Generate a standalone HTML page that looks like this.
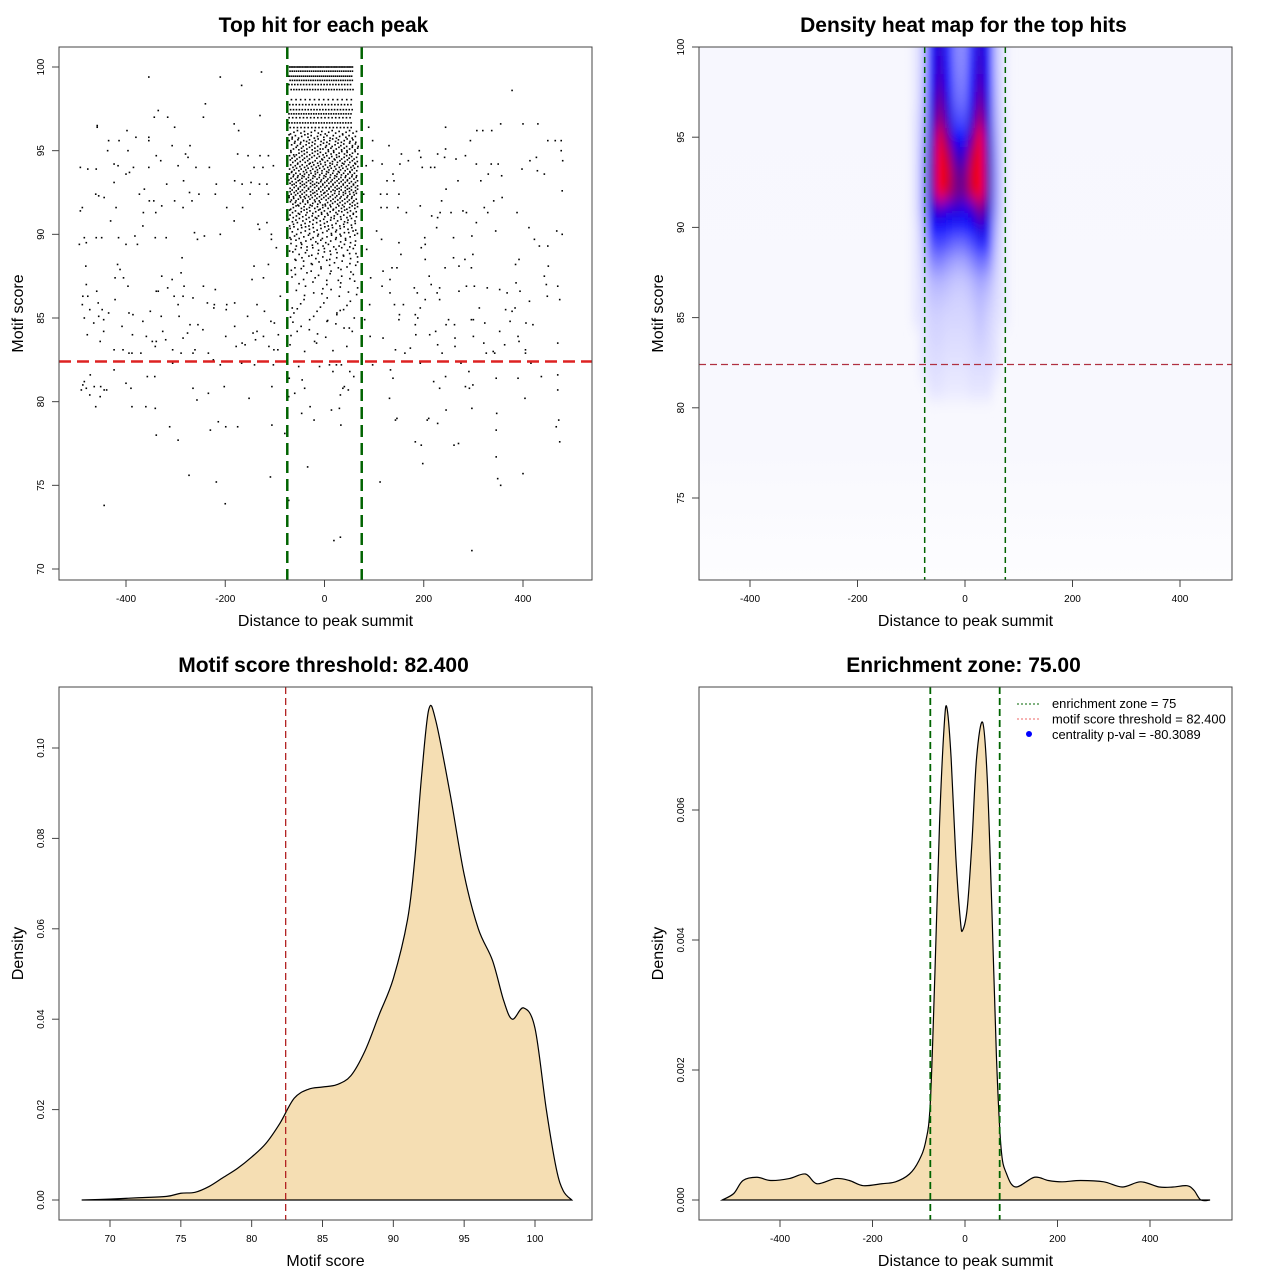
<!DOCTYPE html>
<html><head><meta charset="utf-8"><style>
html,body{margin:0;padding:0;background:#fff;}
svg{display:block;font-family:"Liberation Sans",Arial,sans-serif;}
</style></head><body>
<svg id="fig" xmlns="http://www.w3.org/2000/svg" width="1280" height="1280" viewBox="0 0 1280 1280">
<defs>
<filter id="heatBlur" x="-20%" y="-20%" width="140%" height="140%"><feGaussianBlur stdDeviation="4 8"/></filter>
<clipPath id="clip2"><rect x="699" y="47" width="533" height="533"/></clipPath>
<linearGradient id="heatBg" x1="0" y1="0" x2="0" y2="1">
<stop offset="0" stop-color="#f7f7fe"/><stop offset="0.75" stop-color="#f8f8fe"/><stop offset="1" stop-color="#fdfdff"/></linearGradient>
</defs>
<rect width="1280" height="1280" fill="#fff"/>
<g id="p1"></g>
<g id="p2"></g>
<g id="p3"></g>
<g id="p4"></g>
</svg>
<script>
// ---------- DATA ----------
const outsidePoints = [[-354,99.4],[-210,99.4],[-127,99.7],[-167,98.9],[378,98.6],[-335,97.4],[-240,97.8],[-343,97.0],[-316,97.0],[-244,97.0],[-130,97.1],[-458,96.5],[-458,96.4],[-302,96.4],[-182,96.6],[89,96.4],[244,96.4],[355,96.6],[400,96.6],[430,96.6],[-398,96.2],[-173,96.2],[307,96.2],[319,96.2],[337,96.2],[-380,95.8],[-354,95.8],[-354,95.6],[-435,95.6],[-414,95.6],[97,95.6],[294,95.6],[450,95.6],[465,95.6],[477,95.6],[-307,95.3],[-271,95.3],[130,95.3],[-437,95.0],[-396,95.0],[477,95.0],[244,95.1],[191,95.0],[155,94.8],[-280,94.8],[-275,94.6],[-339,94.7],[-175,94.8],[-154,94.7],[-130,94.7],[-113,94.7],[228,94.8],[284,94.7],[265,94.5],[427,94.6],[480,94.4],[-330,94.4],[97,94.4],[169,94.4],[194,94.6],[242,94.6],[-492,94.0],[-477,93.9],[-460,93.9],[-424,94.2],[-416,94.1],[-385,94.0],[-354,94.0],[-295,94.1],[-259,94.0],[-232,94.0],[-142,94.0],[-124,94.0],[-103,94.1],[84,94.1],[116,94.2],[152,94.2],[197,94.0],[214,94.0],[222,94.0],[306,94.2],[336,94.2],[350,94.2],[398,93.9],[414,94.4],[-400,93.6],[-393,93.7],[138,93.6],[330,93.6],[357,93.5],[429,93.8],[443,93.6],[-424,93.1],[-318,93.0],[-284,93.2],[-218,93.0],[-181,93.2],[-166,93.0],[-148,93.1],[-131,93.0],[-116,93.0],[126,93.2],[140,93.2],[269,93.2],[315,93.2],[245,92.7],[479,92.6],[-461,92.4],[-455,92.3],[-444,92.2],[-373,92.4],[-363,92.7],[-353,92.0],[-344,92.0],[-302,92.0],[-272,92.5],[-267,92.0],[-253,92.4],[-220,92.4],[-150,92.4],[-113,92.4],[79,92.4],[113,92.4],[126,92.4],[150,92.4],[236,92.0],[341,92.0],[358,92.2],[-488,91.6],[-492,91.4],[-420,91.6],[-365,91.3],[-340,91.3],[-328,91.7],[-285,91.6],[-197,91.6],[-165,91.6],[114,91.6],[126,91.6],[148,91.6],[165,91.3],[193,91.7],[216,91.1],[233,91.3],[255,91.3],[279,91.4],[286,91.3],[322,91.6],[329,91.3],[388,91.3],[-431,90.8],[-182,90.8],[-116,90.7],[228,91.0],[306,90.7],[-366,90.5],[-134,90.6],[-131,90.3],[226,90.4],[345,90.2],[412,90.4],[468,90.2],[479,90.0],[-262,90.1],[-256,89.7],[-242,89.9],[-210,90.0],[-107,90.0],[105,90.2],[115,89.7],[150,89.5],[202,89.8],[260,89.8],[297,89.9],[423,89.7],[-484,89.8],[-480,89.5],[-494,89.4],[-460,89.8],[-449,89.8],[-415,89.8],[-382,89.9],[-377,89.4],[-400,89.4],[-341,89.8],[-319,89.8],[-107,89.7],[-97,89.2],[85,89.1],[195,89.2],[203,89.4],[433,89.3],[450,89.3],[-287,88.6],[154,88.8],[203,88.5],[260,88.6],[283,88.5],[299,88.8],[-481,88.1],[-417,88.2],[-412,87.9],[-142,88.1],[-113,88.2],[243,88.0],[271,88.1],[296,88.0],[385,88.2],[392,88.5],[451,88.1],[118,87.8],[136,88.0],[146,88.0],[-328,87.5],[-289,87.7],[-422,87.4],[-405,87.4],[-307,87.3],[-146,87.3],[-123,87.4],[211,87.5],[443,87.5],[93,87.4],[132,87.3],[-480,87.0],[-396,86.9],[-283,86.9],[-244,86.9],[-220,86.7],[-316,86.8],[181,86.8],[215,87.0],[232,86.8],[286,86.9],[302,86.9],[328,86.8],[353,86.7],[386,87.1],[447,87.0],[470,86.9],[116,86.9],[132,86.5],[-459,86.6],[-339,86.6],[-335,86.6],[-303,86.3],[-285,86.3],[-265,86.2],[-422,86.1],[187,86.5],[227,86.5],[271,86.6],[368,86.5],[394,86.6],[449,86.3],[474,86.1],[-89,86.3],[-487,86.3],[-477,86.3],[203,86.1],[232,86.1],[413,86.0],[-488,85.8],[-456,85.9],[-295,85.8],[-236,85.9],[-222,85.8],[-197,85.8],[-181,85.9],[-136,85.8],[91,85.8],[141,85.8],[159,85.8],[193,85.6],[312,85.6],[365,85.5],[378,85.4],[384,85.6],[-473,85.5],[-448,85.5],[-435,85.3],[-394,85.3],[-386,85.2],[-351,85.4],[-329,85.1],[-293,85.1],[-223,85.6],[-198,85.5],[-155,85.1],[-121,85.4],[151,85.2],[183,85.2],[188,85.0],[250,84.9],[300,84.9],[323,84.7],[374,84.8],[406,84.7],[420,84.6],[-484,85.0],[-455,85.1],[-465,84.7],[-445,84.9],[-366,84.8],[-408,84.5],[-271,84.6],[-255,84.6],[-245,84.3],[-181,84.5],[-108,84.8],[-101,84.7],[245,84.6],[262,84.6],[296,84.9],[183,84.6],[150,84.9],[81,84.9],[-445,84.2],[-387,84.0],[-359,83.9],[-326,84.2],[-276,84.1],[-199,83.9],[-144,84.1],[-136,84.2],[-123,83.9],[-93,84.0],[-478,84.0],[184,84.0],[212,84.0],[224,84.2],[263,83.8],[300,83.9],[353,84.2],[390,83.9],[92,83.9],[118,83.8],[470,83.5],[-452,83.6],[-347,83.6],[-339,83.6],[-320,83.7],[-285,83.8],[-166,83.5],[-160,83.4],[-139,83.7],[228,83.4],[263,83.3],[321,83.5],[363,83.4],[392,83.6],[405,83.1],[-424,83.1],[-406,83.1],[-394,82.9],[-388,82.9],[-370,82.9],[-341,83.3],[-306,83.1],[-289,82.9],[-265,82.9],[-261,83.1],[-234,82.9],[-178,83.3],[-112,83.3],[-102,83.1],[-94,83.1],[143,83.1],[162,82.9],[173,83.2],[237,82.9],[326,82.9],[340,83.0],[343,82.9],[405,82.9],[-306,82.3],[-224,82.5],[-210,82.2],[-167,82.3],[-141,82.2],[-103,82.2],[-424,81.9],[-472,81.6],[-357,81.5],[-342,81.5],[-484,81.2],[-487,81.0],[-490,80.7],[-480,80.8],[-464,80.9],[-451,80.9],[-444,80.7],[-439,80.7],[-473,80.4],[-452,80.3],[-400,81.1],[-390,80.8],[-265,80.8],[-257,80.1],[-234,80.5],[-202,80.9],[-152,80.2],[-106,80.9],[-461,79.7],[-388,79.7],[-360,79.7],[-341,79.6],[-312,78.5],[-339,78.0],[-295,77.7],[-230,78.3],[-214,78.8],[-199,78.5],[-175,78.5],[-106,78.6],[-273,75.6],[-218,75.2],[-109,75.5],[-444,73.8],[-200,73.9],[97,82.2],[133,81.9],[138,81.4],[193,82.3],[275,82.3],[291,81.8],[244,81.5],[346,81.4],[390,81.4],[416,82.3],[437,81.5],[470,81.6],[220,81.2],[232,80.8],[284,80.9],[292,80.8],[299,81.0],[470,80.7],[131,80.2],[404,80.2],[245,79.5],[297,79.6],[347,79.3],[143,78.9],[146,79.0],[207,78.9],[210,79.0],[228,78.7],[472,78.9],[467,78.5],[346,78.3],[183,77.6],[195,77.4],[261,77.4],[270,77.5],[474,77.6],[198,76.3],[346,76.7],[400,75.7],[349,75.4],[355,75.0],[112,75.2],[297,71.1],[-71,81.4],[-52,82.1],[-45,81.3],[-40,80.8],[-60,80.5],[-72,80.3],[-29,79.7],[-46,79.3],[-21,78.9],[14,79.5],[30,79.6],[33,78.6],[24,82.2],[34,82.2],[17,81.8],[40,80.9],[37,80.8],[48,80.7],[32,80.4],[-34,76.1],[-72,74.1],[19,71.7],[32,71.9],[-10,82.1],[10,82.2],[59,81.5],[51,81.8],[-80,78.1],[-40,83.0],[-20,83.6],[-55,84.2],[5,84.8],[45,83.3],[60,85.0],[-65,85.6],[25,85.3],[-30,84.9],[50,84.4]];
const topRowY = [100.0,99.75,99.45,99.2,98.95,98.65,98.05,97.75,97.45,97.2,96.97,96.66,96.38];
const topRowN = [40,30,32,28,22,24,14,20,22,26,18,24,18];
const bandY = [96.1,95.85,95.6,95.35,95.1,94.85,94.6,94.35,94.1,93.85,93.6,93.35,93.1,92.85,92.6,92.35,92.1,91.85,91.6,91.35,91.1,90.85,90.6,90.35,90.1,89.85,89.6,89.35,89.1,88.85,88.6,88.35,88.1,87.85,87.6,87.35,87.1,86.85,86.6,86.35,86.1,85.85,85.6,85.35,85.1,84.85,84.6,84.35,84.1,83.85,83.6,83.35,83.1];
const bandN = [20,22,24,24,26,26,28,28,30,30,32,32,34,34,34,32,30,28,26,24,22,20,18,18,16,15,14,13,12,11,10,9,8,7,6,6,5,4,4,4,3,3,3,3,3,2,2,2,2,2,1,1,1];
const xTicks12 = [-400,-200,0,200,400];
const yTicks1 = [70,75,80,85,90,95,100];
const yTicks2 = [75,80,85,90,95,100];
// heat map grid (density: 0 white, 0.5 blue, >=1 red)
const heatCols = [-92,-77,-62,-47,-32,-17,-2,13,28,43,58,73];
const heatRows = [101,100,99,98,97,96,95,94,93,92,91,90,89,88,87,86,85,84,83,82,81];
const heatVals = [
[0.04,0.12,0.45,0.6,0.42,0.24,0.22,0.4,0.6,0.45,0.12,0.04],
[0.04,0.12,0.45,0.6,0.42,0.24,0.22,0.4,0.6,0.45,0.12,0.04],
[0.04,0.12,0.47,0.62,0.45,0.25,0.23,0.43,0.62,0.47,0.12,0.04],
[0.04,0.13,0.5,0.66,0.5,0.27,0.25,0.48,0.66,0.5,0.13,0.04],
[0.04,0.14,0.53,0.72,0.55,0.3,0.28,0.52,0.72,0.53,0.14,0.04],
[0.05,0.15,0.56,0.8,0.6,0.36,0.34,0.58,0.82,0.56,0.15,0.05],
[0.05,0.17,0.6,0.95,0.72,0.5,0.48,0.7,0.98,0.6,0.17,0.05],
[0.05,0.19,0.64,1.15,0.85,0.62,0.6,0.85,1.2,0.64,0.19,0.05],
[0.05,0.2,0.66,1.3,0.92,0.72,0.7,0.92,1.3,0.66,0.2,0.05],
[0.05,0.2,0.64,1.2,0.88,0.74,0.72,0.9,1.25,0.66,0.2,0.05],
[0.05,0.19,0.56,0.62,0.56,0.58,0.54,0.6,0.75,0.6,0.19,0.05],
[0.04,0.15,0.46,0.5,0.46,0.44,0.44,0.5,0.58,0.52,0.15,0.04],
[0.04,0.12,0.32,0.36,0.32,0.28,0.28,0.34,0.42,0.38,0.12,0.04],
[0.04,0.1,0.22,0.24,0.2,0.17,0.17,0.22,0.28,0.24,0.1,0.04],
[0.04,0.08,0.14,0.15,0.13,0.11,0.11,0.14,0.18,0.15,0.08,0.04],
[0.04,0.07,0.11,0.11,0.1,0.09,0.09,0.11,0.14,0.11,0.07,0.04],
[0.04,0.06,0.09,0.09,0.08,0.08,0.08,0.09,0.12,0.09,0.06,0.04],
[0.03,0.05,0.08,0.08,0.07,0.07,0.07,0.08,0.1,0.08,0.05,0.03],
[0.03,0.05,0.07,0.07,0.06,0.06,0.06,0.07,0.08,0.07,0.05,0.03],
[0.03,0.04,0.06,0.06,0.05,0.05,0.05,0.06,0.06,0.06,0.04,0.03],
[0.03,0.03,0.05,0.05,0.04,0.04,0.04,0.05,0.05,0.05,0.03,0.03]];
// score density
const scoreX = [68,70,72,74,75,76,77,78,79,80,81,82,83,84,85,86,87,88,89,90,91,91.5,92,92.5,93,94,95,96,97,97.8,98.4,99.2,100,100.8,101.5,102,102.6];
const scoreD = [0,0.0002,0.0005,0.0008,0.0015,0.0017,0.003,0.005,0.007,0.0095,0.0125,0.017,0.0225,0.0245,0.025,0.0255,0.0275,0.033,0.041,0.049,0.062,0.075,0.094,0.1085,0.106,0.09,0.072,0.06,0.053,0.044,0.040,0.0425,0.038,0.02,0.007,0.002,0];
const scoreXTicks = [70,75,80,85,90,95,100];
const scoreYTicks = [0,0.02,0.04,0.06,0.08,0.10];
// distance density
const distX = [-525,-500,-480,-450,-420,-380,-345,-320,-280,-250,-220,-180,-150,-120,-100,-85,-75,-65,-55,-45,-39,-30,-20,-10,-5,5,15,25,38,48,58,68,78,90,110,150,180,210,250,300,340,380,420,450,480,495,510,530];
const distD = [0,0.0001,0.0003,0.00035,0.0003,0.00033,0.0004,0.00025,0.00033,0.0003,0.00022,0.00025,0.00028,0.0004,0.0006,0.0009,0.0015,0.0035,0.0058,0.0073,0.00757,0.0068,0.0053,0.0043,0.00415,0.0045,0.0055,0.0068,0.00735,0.0065,0.0045,0.0022,0.0008,0.0004,0.0002,0.00035,0.0003,0.00028,0.0003,0.00028,0.0002,0.00028,0.0002,0.0002,0.00022,0.00015,0,0];
const distXTicks = [-400,-200,0,200,400];
const distYTicks = [0,0.002,0.004,0.006];
const scoreThreshold = 82.4;
const enrichZone = 75;

// ---------- HELPERS ----------
const NS = "http://www.w3.org/2000/svg";
function mk(parent, tag, attrs, text) {
  const e = document.createElementNS(NS, tag);
  for (const k in attrs) e.setAttribute(k, attrs[k]);
  if (text !== undefined) e.textContent = text;
  parent.appendChild(e);
  return e;
}
function lin(d0, d1, r0, r1) { return v => r0 + (v - d0) / (d1 - d0) * (r1 - r0); }

function frame(g, box, title, xlab, ylab, xs, ys, xt, yt, xfmt, yfmt) {
  const b = mk(g, 'rect', {x: box.x, y: box.y, width: box.w, height: box.h, fill: 'none', stroke: '#444', 'stroke-width': 1});
  
  
  const t = mk(g, 'text', {x: box.x + box.w / 2 - 2, y: box.y - 15, 'text-anchor': 'middle', 'font-size': 21, 'font-weight': 'bold', fill: '#000'}, title);
  
  
  const xl = mk(g, 'text', {x: box.x + box.w / 2, y: box.y + box.h + 46, 'text-anchor': 'middle', 'font-size': 16, fill: '#000'}, xlab);
  
  
  const cy = box.y + box.h / 2;
  const yl = mk(g, 'text', {x: box.x - 36, y: cy, 'text-anchor': 'middle', 'font-size': 16, fill: '#000', transform: `rotate(-90 ${box.x - 36} ${cy})`}, ylab);
  
  
  const by = box.y + box.h;
  mk(g, 'line', {x1: xs(xt[0]), x2: xs(xt[xt.length - 1]), y1: by, y2: by, stroke: '#444'});
  xt.forEach(v => {
    const x = xs(v);
    mk(g, 'line', {x1: x, x2: x, y1: by, y2: by + 7, stroke: '#444'});
    const l = mk(g, 'text', {x: x, y: by + 22, 'text-anchor': 'middle', 'font-size': 10, fill: '#000'}, xfmt(v));
    
    
  });
  mk(g, 'line', {x1: box.x, x2: box.x, y1: ys(yt[0]), y2: ys(yt[yt.length - 1]), stroke: '#444'});
  yt.forEach(v => {
    const y = ys(v);
    mk(g, 'line', {x1: box.x, x2: box.x - 7, y1: y, y2: y, stroke: '#444'});
    const lx = box.x - 15;
    const l = mk(g, 'text', {x: lx, y: y, 'text-anchor': 'middle', 'font-size': 10, fill: '#000', transform: `rotate(-90 ${lx} ${y})`}, yfmt(v));
    
    
  });
}
function smoothPath(pts) {
  let d = `M${pts[0][0]},${pts[0][1]}`;
  for (let i = 0; i < pts.length - 1; i++) {
    const p0 = pts[Math.max(0, i - 1)], p1 = pts[i], p2 = pts[i + 1], p3 = pts[Math.min(pts.length - 1, i + 2)];
    const c1x = p1[0] + (p2[0] - p0[0]) / 6, c1y = p1[1] + (p2[1] - p0[1]) / 6;
    const c2x = p2[0] - (p3[0] - p1[0]) / 6, c2y = p2[1] - (p3[1] - p1[1]) / 6;
    d += ` C${c1x},${c1y} ${c2x},${c2y} ${p2[0]},${p2[1]}`;
  }
  return d;
}

// ---------- PANEL 1: scatter ----------
(function () {
  const g = document.getElementById('p1');
  const box = {x: 59, y: 47, w: 533, h: 533};
  const xs = lin(-400, 400, 126, 523), ys = lin(100, 70, 67, 569);
  const pg = mk(g, 'g', {fill: '#000'});
  
  
  outsidePoints.forEach(p => {
    const c = mk(pg, 'rect', {x: xs(p[0]) - 0.8, y: ys(p[1]) - 0.8, width: 1.6, height: 1.6});
    
    
  });
  topRowY.forEach((yv, i) => {
    const n = topRowN[i];
    for (let j = 0; j < n; j++) {
      const f = ((j + 0.5) / n + i * 0.37) % 1;
      const xv = -72 + 130 * f;
      const c = mk(pg, 'rect', {x: xs(xv) - 0.8, y: ys(yv) - 0.8, width: 1.6, height: 1.6});
      
      
    }
  });
  bandY.forEach((yv, i) => {
    const n = bandN[i];
    for (let j = 0; j < n; j++) {
      const f = ((j + 0.5) / n + i * 0.618) % 1;
      const xv = -72 + 140 * f;
      const dy = (((j * 7 + i * 3) % 5) - 2) * 0.05;
      const c = mk(pg, 'rect', {x: xs(xv) - 0.8, y: ys(yv + dy) - 0.8, width: 1.6, height: 1.6});
      
      
    }
  });
  const h = mk(g, 'line', {x1: box.x, x2: box.x + box.w, y1: ys(scoreThreshold), y2: ys(scoreThreshold), stroke: '#dd2222', 'stroke-width': 2.5, 'stroke-dasharray': '12 6'});
  
  
  [-enrichZone, enrichZone].forEach(v => {
    const l = mk(g, 'line', {x1: xs(v), x2: xs(v), y1: box.y, y2: box.y + box.h, stroke: '#006400', 'stroke-width': 2.5, 'stroke-dasharray': '12 6'});
    
    
  });
  frame(g, box, 'Top hit for each peak', 'Distance to peak summit', 'Motif score', xs, ys, xTicks12, yTicks1, v => String(v), v => String(v));
})();

// ---------- PANEL 2: heat map ----------
(function () {
  const g = document.getElementById('p2');
  const box = {x: 699, y: 47, w: 533, h: 533};
  const xs = lin(-400, 400, 750, 1180), ys = lin(100, 75, 47, 498);
  const cg = mk(g, 'g', {'clip-path': 'url(#clip2)'});
  const bg = mk(cg, 'rect', {x: box.x, y: box.y, width: box.w, height: box.h, fill: 'url(#heatBg)'});
  
  
  const hg = mk(cg, 'g', {filter: 'url(#heatBlur)'});
  
  
  const cw = Math.abs(xs(15) - xs(0)), ch = Math.abs(ys(1) - ys(0));
  function col(v) {
    v = Math.min(1, v);
    let r, gg, b;
    if (v < 0.5) { const t = v / 0.5; r = 255 * (1 - t); gg = 255 * (1 - t); b = 255; }
    else { const t = (v - 0.5) / 0.5; r = 255 * t; gg = 0; b = 255 * (1 - t); }
    return `rgb(${r | 0},${gg | 0},${b | 0})`;
  }
  heatRows.forEach((yv, i) => heatCols.forEach((xv, j) => {
    const v = heatVals[i][j];
    if (v < 0.035) return;
    const c = mk(hg, 'rect', {x: xs(xv) - cw / 2, y: ys(yv) - ch / 2, width: cw + 0.5, height: ch + 0.5, fill: col(v)});
    
    
  }));
  const h = mk(g, 'line', {x1: box.x, x2: box.x + box.w, y1: ys(scoreThreshold), y2: ys(scoreThreshold), stroke: '#b03040', 'stroke-width': 1.2, 'stroke-dasharray': '7 4'});
  
  
  [-enrichZone, enrichZone].forEach(v => {
    const l = mk(g, 'line', {x1: xs(v), x2: xs(v), y1: box.y, y2: box.y + box.h, stroke: '#006400', 'stroke-width': 1.5, 'stroke-dasharray': '6 4'});
    
    
  });
  frame(g, box, 'Density heat map for the top hits', 'Distance to peak summit', 'Motif score', xs, ys, xTicks12, yTicks2, v => String(v), v => String(v));
})();

// ---------- PANEL 3: score density ----------
(function () {
  const g = document.getElementById('p3');
  const box = {x: 59, y: 687, w: 533, h: 533};
  const xs = lin(70, 100, 110, 535), ys = lin(0, 0.10, 1200, 748);
  const pts = scoreX.map((x, i) => [xs(x), ys(scoreD[i])]);
  const d = smoothPath(pts);
  const a = mk(g, 'path', {d: d + ' Z', fill: '#F5DEB3', stroke: '#000', 'stroke-width': 1.2});
  
  
  const l = mk(g, 'line', {x1: xs(scoreThreshold), x2: xs(scoreThreshold), y1: box.y, y2: box.y + box.h, stroke: '#b22222', 'stroke-width': 1.3, 'stroke-dasharray': '7 4'});
  
  
  frame(g, box, 'Motif score threshold: 82.400', 'Motif score', 'Density', xs, ys, scoreXTicks, scoreYTicks, v => String(v), v => v.toFixed(2));
})();

// ---------- PANEL 4: distance density ----------
(function () {
  const g = document.getElementById('p4');
  const box = {x: 699, y: 687, w: 533, h: 533};
  const xs = lin(-400, 400, 780, 1150), ys = lin(0, 0.006, 1200, 810);
  const pts = distX.map((x, i) => [xs(x), ys(distD[i])]);
  const d = smoothPath(pts);
  const a = mk(g, 'path', {d: d + ' Z', fill: '#F5DEB3', stroke: '#000', 'stroke-width': 1.2});
  
  
  [-enrichZone, enrichZone].forEach(v => {
    const l = mk(g, 'line', {x1: xs(v), x2: xs(v), y1: box.y, y2: box.y + box.h, stroke: '#006400', 'stroke-width': 1.8, 'stroke-dasharray': '7 4'});
    
    
  });
  frame(g, box, 'Enrichment zone: 75.00', 'Distance to peak summit', 'Density', xs, ys, distXTicks, distYTicks, v => String(v), v => v.toFixed(3));
  const lg = mk(g, 'g', {});
  
  
  const e1 = mk(lg, 'line', {x1: 1017, x2: 1041, y1: 704, y2: 704, stroke: '#006400', 'stroke-dasharray': '2 2'});
  
  
  const e2 = mk(lg, 'line', {x1: 1017, x2: 1041, y1: 719, y2: 719, stroke: '#ee6666', 'stroke-dasharray': '2 2'});
  
  
  const e3 = mk(lg, 'circle', {cx: 1029, cy: 734, r: 3, fill: '#0000ff'});
  
  
  const labels = ['enrichment zone = 75', 'motif score threshold = 82.400', 'centrality p-val = -80.3089'];
  labels.forEach((s, i) => {
    const t = mk(lg, 'text', {x: 1052, y: 708 + i * 15.5, 'font-size': 12.9, fill: '#000'}, s);
    
    
  });
})();
</script>
</body></html>
